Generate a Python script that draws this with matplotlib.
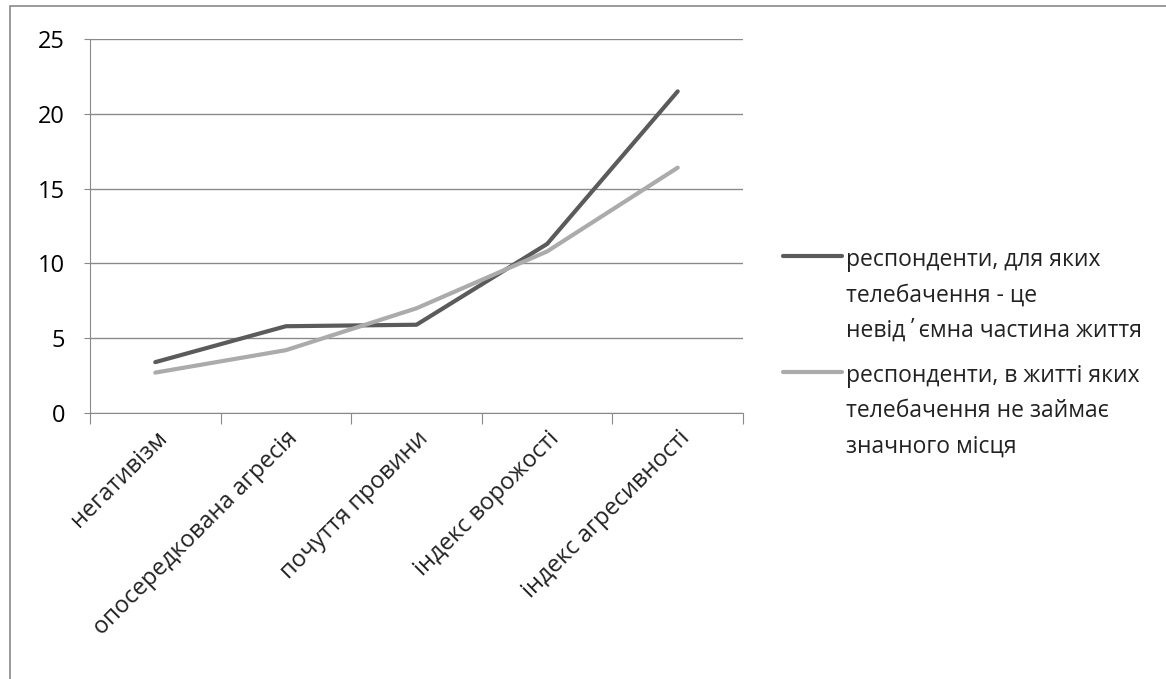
import numpy as np
import matplotlib.pyplot as plt
from matplotlib.patches import Rectangle
from matplotlib.legend_handler import HandlerLine2D

plt.rcParams['font.family'] = ['Open Sans', 'DejaVu Sans']

# дані
категорії = ["негативізм", "опосередкована агресія", "почуття провини",
             "індекс ворожості", "індекс агресивності"]
серія_1 = [3.4, 5.8, 5.9, 11.3, 21.5]
серія_2 = [2.7, 4.2, 7.0, 10.8, 16.4]
назва_1 = "респонденти, для яких\nтелебачення - це\nневід΄ємна частина життя"
назва_2 = "респонденти, в житті яких\nтелебачення не займає\nзначного місця"
y_ticks = [0, 5, 10, 15, 20, 25]


class ЛініяВгорі(HandlerLine2D):
    # піднімає маркер легенди до першого рядка тексту
    def __init__(self, dy, **kw):
        super().__init__(**kw)
        self.dy = dy

    def create_artists(self, legend, orig_handle, xdescent, ydescent,
                       width, height, fontsize, trans):
        arts = super().create_artists(legend, orig_handle, xdescent, ydescent,
                                      width, height, fontsize, trans)
        for a in arts:
            a.set_ydata(np.asarray(a.get_ydata()) + self.dy)
        return arts


fig = plt.figure(figsize=(11.66, 6.79), dpi=100)
ax = fig.add_axes([90 / 1166, 1 - 413 / 679, (743 - 90) / 1166, (413 - 39) / 679])

x = np.arange(len(категорії))
l1, = ax.plot(x, серія_1, color="#5b5b5b", lw=3, label=назва_1, solid_capstyle="round")
l2, = ax.plot(x, серія_2, color="#ababab", lw=3, label=назва_2, solid_capstyle="round")

ax.set_xlim(-0.5, len(категорії) - 0.5)
ax.set_ylim(0, 25)
ax.set_yticks(y_ticks)
ax.yaxis.grid(True, color="#8a8a8a", lw=1)
ax.set_axisbelow(True)
for s in ["top", "right"]:
    ax.spines[s].set_visible(False)
for s in ["left", "bottom"]:
    ax.spines[s].set_color("#8a8a8a")
ax.tick_params(axis="y", length=4, color="#8a8a8a", labelsize=17, pad=14)

# мітки категорій між поділками
ax.set_xticks(np.arange(len(категорії) + 1) - 0.5)
ax.set_xticklabels([])
ax.tick_params(axis="x", length=8, color="#8a8a8a")
for i, k in enumerate(категорії):
    ax.text(i + 0.0, -0.9, k, rotation=45, ha="right", va="top",
            rotation_mode="anchor", fontsize=17, color="#222222")

leg = fig.legend(handles=[l1, l2], loc="upper left",
                 bbox_to_anchor=(762 / 1166, 1 - 227 / 679),
                 frameon=False, fontsize=16.5, handlelength=2.6, handletextpad=0.15,
                 labelspacing=0.9,
                 handler_map={l1: ЛініяВгорі(29), l2: ЛініяВгорі(29)})
for t in leg.get_texts():
    t.set_linespacing(1.65)
    t.set_color("#222222")

fig.patches.append(Rectangle((10 / 1166, -0.1), 1.2, 1 - 6 / 679 + 0.1,
                             transform=fig.transFigure, fill=False,
                             edgecolor="#8a8a8a", lw=1.2))

plt.savefig("out.png", dpi=100)
